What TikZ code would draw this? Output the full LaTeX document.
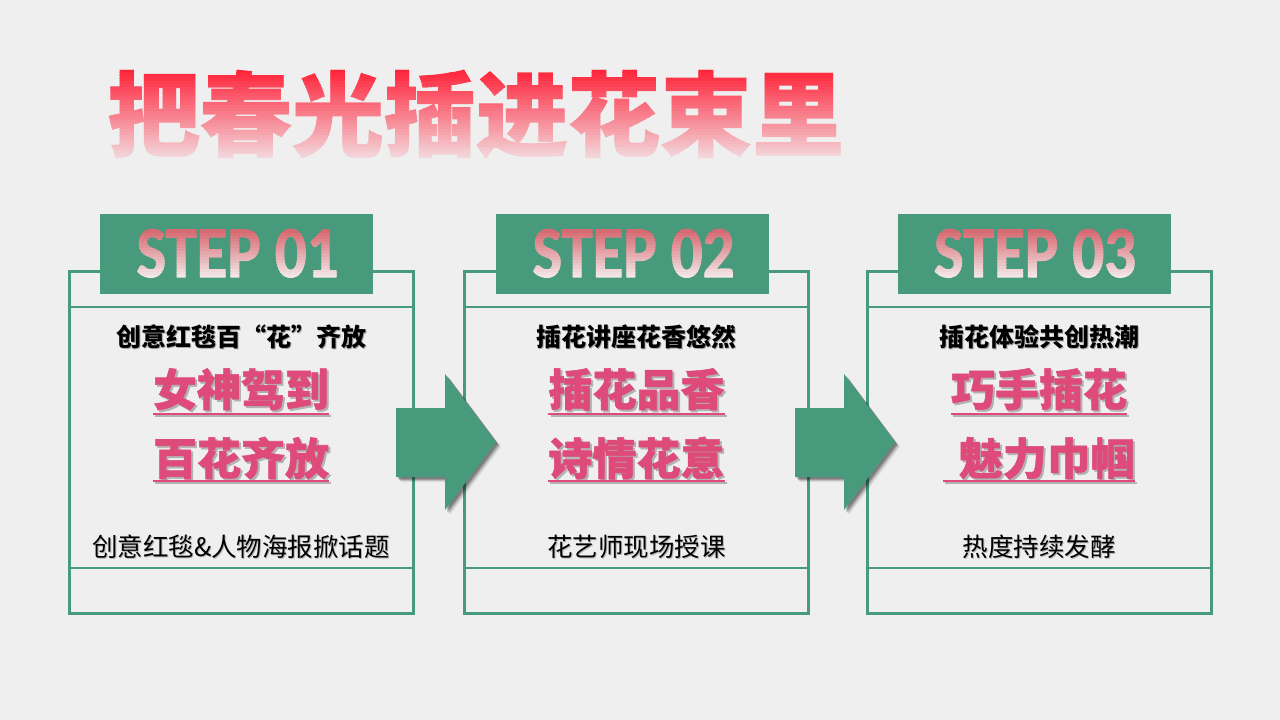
\documentclass[tikz,border=0pt]{standalone}
\usepackage{fontspec}
\newfontfamily\cjk{Noto Sans CJK SC}
\newfontfamily\cjkh{Noto Sans CJK SC}[BoldFeatures={FakeBold=1.2}]
\newfontfamily\stepfont{Carlito}[BoldFeatures={FakeBold=1.5}]
\definecolor{bgc}{HTML}{EFEFEF}
\definecolor{grn}{HTML}{479B7C}
\definecolor{pinkc}{HTML}{DE4B7B}
\definecolor{ttop}{HTML}{FF1C33}
\definecolor{tbot}{HTML}{F2DCE0}
\definecolor{stop}{HTML}{D66A72}
\definecolor{sbot}{HTML}{F3E6E6}
\tikzset{
  frame/.style={draw=grn, line width=3, minimum width=344, minimum height=342, inner sep=0},
  innerline/.style={draw=grn, line width=1.2},
  header/.style={fill=grn, minimum width=273, minimum height=80, inner sep=0},
  titletxt/.style={font=\cjkh\bfseries\fontsize{92}{100}\selectfont, anchor=base, inner sep=0},
  steptxt/.style={font=\stepfont\bfseries\fontsize{73}{80}\selectfont, anchor=base, inner sep=0, xscale=0.86},
  subtxt/.style={font=\cjk\bfseries\fontsize{25}{28}\selectfont, anchor=base, inner sep=0, text=black},
  bottxt/.style={font=\cjk\fontsize{25.5}{28}\selectfont, anchor=base, inner sep=0, text=black},
  pinktxt/.style={font=\cjkh\bfseries\fontsize{44}{48}\selectfont, anchor=base, inner sep=0, text=pinkc},
  ul/.style={draw=pinkc, line width=2.4},
  blockarrow/.style={fill=grn},
}
\begin{document}
\begin{tikzpicture}[x=1pt,y=-1pt]
\fill[bgc] (0,0) rectangle (1280,720);
\useasboundingbox (0,0) rectangle (1280,720);

% title with vertical gradient
\foreach \i in {0,...,31}{
  \pgfmathsetmacro\ya{\i==0 ? 40 : 66+\i*3}
  \pgfmathsetmacro\yb{\i==31 ? 190 : 66+(\i+1)*3+0.4}
  \pgfmathtruncatemacro\pc{100-\i*100/31}
  \begin{scope}
    \clip (90,\ya) rectangle (880,\yb);
    \node[titletxt, text=ttop!\pc!tbot] (title\i) at (476,149) {把春光插进花束里};
  \end{scope}
}

% step boxes
\foreach \n/\bx/\hx/\st/\sub/\la/\lb/\bt in {
  1/241/236.5/01/{创意红毯百“花”齐放}/{女神驾到}/{百花齐放}/{创意红毯\&人物海报掀话题},
  2/636.5/632.5/02/{插花讲座花香悠然}/{插花品香}/{诗情花意}/{花艺师现场授课},
  3/1039/1034/03/{插花体验共创热潮}/{巧手插花}/{\hspace*{0.35em}魅力巾帼}/{热度持续发酵}}{
  \node[frame] (box\n) at (\bx,442) {};
  \draw[innerline] (\bx-170.5,307) -- (\bx+170.5,307);
  \draw[innerline] (\bx-170.5,568) -- (\bx+170.5,568);
  \node[header] (head\n) at (\hx,254) {};
  \foreach \j in {0,...,15}{
    \pgfmathsetmacro\ya{\j==0 ? 215 : 230+\j*3}
    \pgfmathsetmacro\yb{\j==15 ? 294 : 230+(\j+1)*3+0.4}
    \pgfmathtruncatemacro\pc{100-\j*100/15}
    \begin{scope}
      \clip (\hx-135,\ya) rectangle (\hx+135,\yb);
      \node[steptxt, text=stop!\pc!sbot] (step\n-\j) at (\hx+1,277) {STEP \st};
    \end{scope}
  }
  % subtitle
  \node[subtxt, text=black!35] (subsh\n) at (\bx+1,347) {\sub};
  \node[subtxt] (sub\n) at (\bx,346) {\sub};
  % pink lines with shadow
  \node[pinktxt, text=black!30] (lash\n) at (\bx+2,408) {\la};
  \draw[draw=black!30, line width=2.4] (\bx-86,416) -- (\bx+90,416);
  \node[pinktxt] (la\n) at (\bx,406) {\la};
  \draw[ul] (la\n.west |- 0,414) -- (la\n.east |- 0,414);
  \node[pinktxt, text=black!30] (lbsh\n) at (\bx+2,477) {\lb};
  \node[pinktxt] (lb\n) at (\bx,475) {\lb};
  \draw[draw=black!30, line width=2.4] ([xshift=2]lb\n.west |- 0,483) -- ([xshift=2]lb\n.east |- 0,483);
  \draw[ul] (lb\n.west |- 0,481) -- (lb\n.east |- 0,481);
  % bottom text
  \node[bottxt, text=black!30] (botsh\n) at (\bx+1,557) {\bt};
  \node[bottxt] (bot\n) at (\bx,556) {\bt};
}

% block arrows between boxes
\foreach \k/\ax in {1/396, 2/795}{
  \foreach \s/\o in {5/0.07,4/0.12,3/0.18,2/0.22}{
    \fill[black, opacity=\o, shift={(\s,\s)}] (\ax,408) -- (\ax+49,408) -- (\ax+49,374) -- (\ax+100,442) -- (\ax+49,510) -- (\ax+49,477) -- (\ax,477) -- cycle;
  }
  \fill[blockarrow] (\ax,408) -- (\ax+49,408) -- (\ax+49,374) -- (\ax+100,442) -- (\ax+49,510) -- (\ax+49,477) -- (\ax,477) -- cycle;
}
\end{tikzpicture}
\end{document}
